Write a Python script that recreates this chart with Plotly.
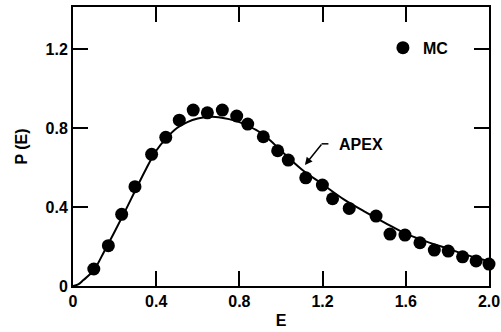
import plotly.graph_objects as go

# Monte Carlo points (MC)
mc_E = [0.10, 0.17, 0.234, 0.298, 0.378, 0.446, 0.511, 0.578, 0.646, 0.718,
        0.787, 0.840, 0.915, 0.984, 1.035, 1.119, 1.199, 1.248, 1.328, 1.457,
        1.524, 1.596, 1.668, 1.737, 1.804, 1.873, 1.938, 2.0]
mc_P = [0.086, 0.204, 0.363, 0.503, 0.667, 0.753, 0.840, 0.891, 0.877, 0.891,
        0.861, 0.820, 0.756, 0.685, 0.638, 0.548, 0.511, 0.442, 0.393, 0.354,
        0.263, 0.258, 0.219, 0.182, 0.177, 0.148, 0.127, 0.111]

# APEX curve
apex_E = [0, 0.025, 0.05, 0.1, 0.15, 0.2, 0.25, 0.3, 0.35, 0.4, 0.45, 0.5, 0.55,
          0.6, 0.65, 0.7, 0.75, 0.8, 0.85, 0.9, 0.95, 1.0, 1.1, 1.2, 1.3, 1.4,
          1.5, 1.6, 1.7, 1.8, 1.9, 2.0]
apex_P = [0, 0.008, 0.03, 0.08, 0.175, 0.275, 0.378, 0.485, 0.59, 0.685, 0.75,
          0.80, 0.83, 0.848, 0.856, 0.855, 0.845, 0.83, 0.807, 0.778, 0.735,
          0.685, 0.59, 0.515, 0.44, 0.378, 0.32, 0.265, 0.225, 0.19, 0.155, 0.125]

x_ticks = [0, 0.4, 0.8, 1.2, 1.6, 2.0]
x_labels = ["0", "0.4", "0.8", "1.2", "1.6", "2.0"]
y_ticks = [0, 0.4, 0.8, 1.2]
y_labels = ["0", "0.4", "0.8", "1.2"]

FONT = dict(family="Liberation Sans, Arial, sans-serif", size=16, color="black", weight="bold")

fig = go.Figure()
fig.add_trace(go.Scatter(x=apex_E, y=apex_P, mode="lines", line=dict(color="black", width=2, shape="spline"),
                         showlegend=False, name="APEX"))
fig.add_trace(go.Scatter(x=mc_E, y=mc_P, mode="markers", marker=dict(color="black", size=13),
                         name="MC", showlegend=True, cliponaxis=False))

# APEX label with bent arrow
fig.add_annotation(x=1.269, y=0.716, xref="x", yref="y", text="APEX", showarrow=False,
                   xanchor="left", yanchor="middle", font=FONT)
fig.add_annotation(x=1.115, y=0.613, xref="x", yref="y", text=" ", showarrow=True,
                   arrowhead=2, arrowsize=1, arrowwidth=1.5, arrowcolor="black",
                   ax=17, ay=-21, borderpad=0, font=dict(size=1))
fig.add_shape(type="line", xref="x", yref="y", x0=1.195, x1=1.228, y0=0.72, y1=0.72,
              line=dict(color="black", width=1.5))

fig.update_layout(
    width=501, height=332,
    margin=dict(l=73, r=12, t=7, b=46),
    paper_bgcolor="white", plot_bgcolor="white",
    font=FONT,
    legend=dict(x=0.745, y=0.854, xanchor="left", yanchor="middle", bgcolor="rgba(0,0,0,0)",
                font=FONT, itemwidth=30),
)
fig.update_xaxes(range=[0, 2.0], tickvals=x_ticks, ticktext=x_labels, ticks="inside", ticklen=15,
                 tickwidth=1.5, tickcolor="black", showline=True, linecolor="black", linewidth=2,
                 mirror="ticks", showgrid=False, zeroline=False, automargin=False,
                 title=dict(text="E", font=FONT, standoff=6))
fig.update_yaxes(range=[0, 1.413], tickvals=y_ticks, ticktext=y_labels, ticks="inside", ticklen=15,
                 tickwidth=1.5, tickcolor="black", showline=True, linecolor="black", linewidth=2,
                 mirror="ticks", showgrid=False, zeroline=False, automargin=False,
                 title=dict(text="P (E)", font=FONT, standoff=14))

fig.write_html("out.html", config={"displayModeBar": False},
               post_script="document.body.style.margin='0';document.body.style.overflow='hidden';")
